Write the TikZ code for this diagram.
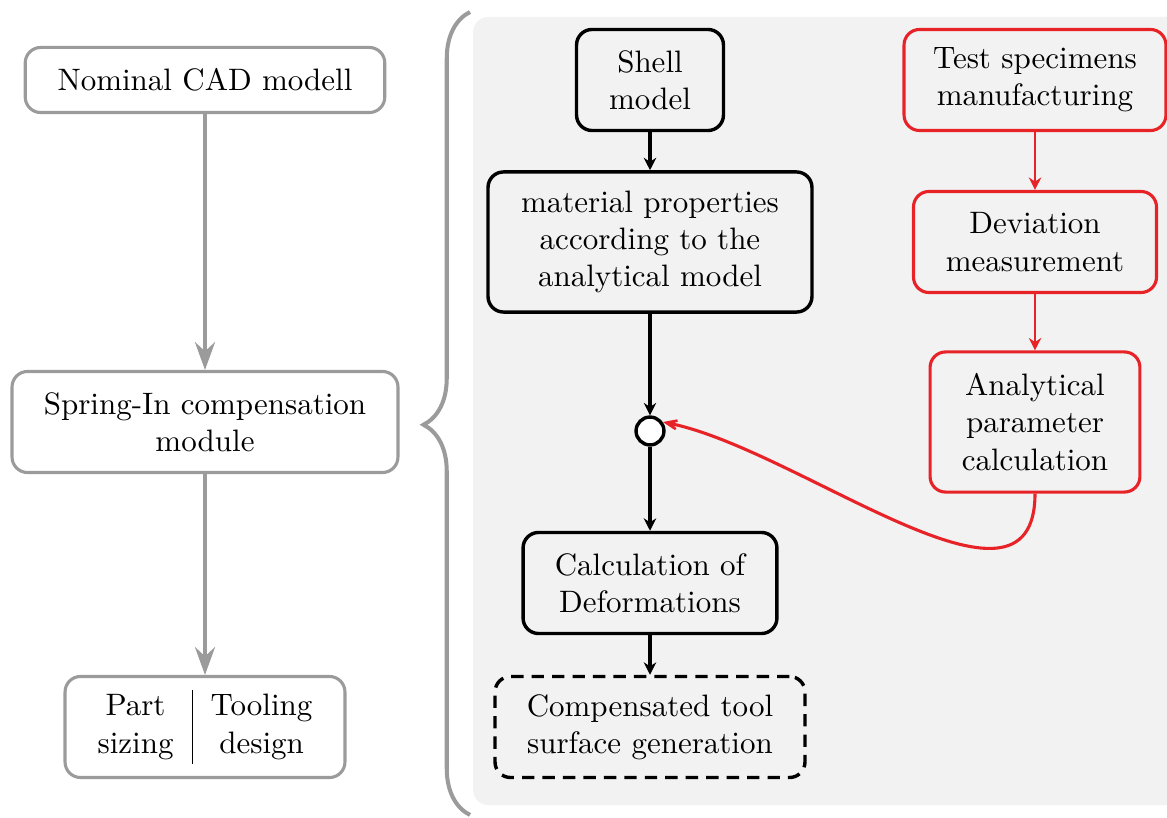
\documentclass[tikz,border=0pt]{standalone}
\usetikzlibrary{arrows.meta,decorations.pathreplacing}
\definecolor{boxgray}{RGB}{155,155,155}
\definecolor{flowred}{RGB}{232,35,40}
\definecolor{panelgray}{RGB}{242,242,242}
\begin{document}
\begin{tikzpicture}[x=0.3226pt,y=-0.3226pt,
                graybox/.style={draw=boxgray,line width=1pt,rounded corners=5pt,align=center,fill=white},
                blackbox/.style={draw=black,line width=1.1pt,rounded corners=5pt,align=center},
                redbox/.style={draw=flowred,line width=1pt,rounded corners=5pt,align=center},
                grayarrow/.style={draw=boxgray,line width=1pt,-{Stealth[length=9pt,width=6.5pt,inset=3pt]}},
                blackarrow/.style={line width=1.1pt,-{Stealth[length=4pt,width=4pt]}},
                redarrow/.style={draw=flowred,line width=0.9pt,-{Stealth[length=4pt,width=4pt]}}]
                \useasboundingbox (0,0) rectangle (1167,818);
                \clip (0,0) rectangle (1167,818);
                \fill[panelgray,rounded corners=5pt] (473,17) rectangle (1200,805);
                \draw[boxgray,line width=1.3pt,decorate,
                    decoration={brace,amplitude=15pt,aspect=0.486}] 
                    (470,815) -- (470,12);

                \node[graybox,minimum width=116pt,minimum height=21pt] 
                    (nominal) at (205,80) {Nominal CAD modell};
                \node[graybox,minimum width=124.5pt,minimum height=32.6pt] 
                    (springin) at (205,422) {Spring-In compensation\\module};
                \node[graybox,minimum width=90.3pt,minimum height=32.6pt,inner xsep=0pt] 
                    (sizing) at (205,727) {\begin{tabular}{c|c}Part&Tooling\\sizing&design\end{tabular}};

                \node[blackbox,minimum width=47.4pt,minimum height=32.6pt] 
                    (shell) at (650,80) {Shell\\model};
                \node[blackbox,minimum width=104.5pt,minimum height=45.2pt] 
                    (material) at (650,242) {material properties\\according to the\\analytical model};
                \node[draw,circle,line width=1.1pt,minimum size=9pt,inner sep=0pt,fill=white] 
                    (junction) at (650,431) {};
                \node[blackbox,minimum width=81.9pt,minimum height=32.6pt] 
                    (deform) at (650,583) {Calculation of\\Deformations};
                \node[blackbox,dash pattern=on 4pt off 2.6pt,minimum width=100pt,minimum height=32.6pt] 
                    (toolsurf) at (650,727) {Compensated tool\\surface generation};

                \node[redbox,minimum width=84.5pt,minimum height=32.6pt] 
                    (specimens) at (1035,80) {Test specimens\\manufacturing};
                \node[redbox,minimum width=78.4pt,minimum height=32.6pt] 
                    (deviation) at (1035,242) {Deviation\\measurement};
                \node[redbox,minimum width=67.7pt,minimum height=45.2pt] 
                    (analytic) at (1035,422) {Analytical\\parameter\\calculation};

                \draw[grayarrow] (nominal) -- (springin);
                \draw[grayarrow] (springin) -- (sizing);
                \draw[blackarrow] (shell) -- (material);
                \draw[blackarrow] (material) -- (junction);
                \draw[blackarrow] (junction) -- (deform);
                \draw[blackarrow] (deform) -- (toolsurf);
                \draw[redarrow] (specimens) -- (deviation);
                \draw[redarrow] (deviation) -- (analytic);
                \draw[flowred,line width=1pt,-{Stealth[length=8pt,width=6.5pt,inset=5pt]}] 
                    (analytic.south) .. controls (1035,640) and (800,450) .. (junction.35);
            \end{tikzpicture}
\end{document}
